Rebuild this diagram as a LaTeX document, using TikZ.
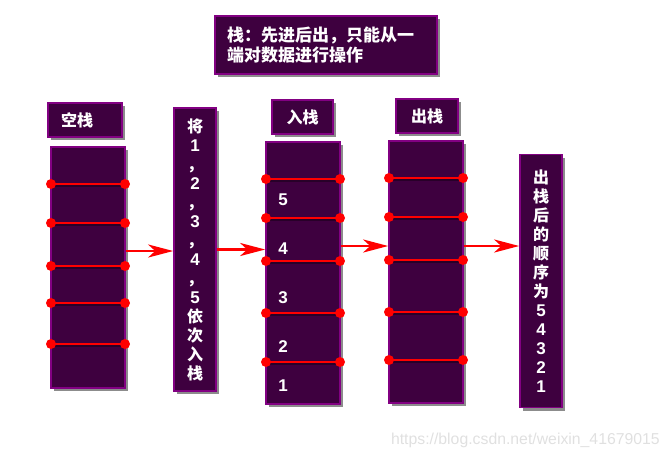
\documentclass[tikz,border=0pt]{standalone}
\usepackage{fontspec}
\setmainfont{Liberation Sans}
\newfontfamily\cjk{Noto Sans CJK SC}
\usetikzlibrary{arrows.meta,shadows}
\definecolor{boxfill}{HTML}{3E003F}
\definecolor{boxline}{HTML}{820082}
\definecolor{lred}{HTML}{FF0000}
\newcommand{\dg}[1]{{\normalfont\bfseries\fontsize{17}{19}\selectfont #1}}
\begin{document}
\begin{tikzpicture}[x=1pt,y=-1pt,
  box/.style={draw=boxline,line width=1.6pt,fill=boxfill,
    drop shadow={shadow xshift=3pt,shadow yshift=-3pt,opacity=0.45,fill=black},
    inner sep=0pt,text=white,font=\cjk\bfseries\fontsize{16}{19}\selectfont},
  vtext/.style={align=center},
  arr/.style={draw=lred,line width=2.6pt,-{Stealth[length=25pt,width=13pt,inset=7pt]}},
  rline/.style={draw=lred,line width=2.6pt},
  rshadow/.style={draw=black,opacity=0.35,line width=2.6pt},
  rdot/.style={fill=lred},
  num/.style={text=white,font=\bfseries\fontsize{17}{19}\selectfont}
]
\useasboundingbox (0,0) rectangle (671,459);

% title
\node[box,minimum width=222pt,minimum height=58pt,text width=198pt,align=left,
  font=\cjk\bfseries\fontsize{17}{20}\selectfont] (title) at (326,45)
  {栈：先进后出，只能从一\\端对数据进行操作};

% labels
\node[box,minimum width=74pt,minimum height=34pt] (lkong) at (85,120) {};
\node[text=white,font=\cjk\bfseries\fontsize{16}{19}\selectfont,anchor=west,inner sep=0pt] (tkong) at (61,120) {空栈};
\node[box,minimum width=61pt,minimum height=34pt] (lru) at (302.5,117) {入栈};
\node[box,minimum width=62pt,minimum height=34pt] (lchu) at (427,116) {出栈};

% stacks
\node[box,minimum width=74pt,minimum height=241pt] (kong) at (88,267.5) {};
\node[box,minimum width=74pt,minimum height=262pt] (ru) at (303,273) {};
\node[box,minimum width=74pt,minimum height=262pt] (chu) at (426,272) {};

% vertical text boxes
\node[box,minimum width=42pt,minimum height=283pt,vtext] (jiang) at (195,249.5)
  {将\\\dg{1}\\，\\\dg{2}\\，\\\dg{3}\\，\\\dg{4}\\，\\\dg{5}\\依\\次\\入\\栈};
\node[box,minimum width=42pt,minimum height=253pt,vtext] (final) at (541,281)
  {出\\栈\\后\\的\\顺\\序\\为\\\dg{5}\\\dg{4}\\\dg{3}\\\dg{2}\\\dg{1}};

% red lines in stacks
\foreach \y in {184,223,266,303,344}{
  \draw[rshadow] (53,\y+2) -- (127,\y+2);
  \draw[rline] (51,\y) -- (125,\y);
  \fill[rdot] (51,\y) circle (5pt) (125,\y) circle (5pt);
}
\foreach \y in {179,218,261,313,362}{
  \draw[rshadow] (268,\y+2) -- (342,\y+2);
  \draw[rline] (266,\y) -- (340,\y);
  \fill[rdot] (266,\y) circle (5pt) (340,\y) circle (5pt);
}
\foreach \y in {178,217,260,312,360}{
  \draw[rshadow] (391,\y+2) -- (465,\y+2);
  \draw[rline] (389,\y) -- (463,\y);
  \fill[rdot] (389,\y) circle (5pt) (463,\y) circle (5pt);
}

% numbers in the push stack
\node[num] (n5) at (283,200) {5};
\node[num] (n4) at (283,249) {4};
\node[num] (n3) at (283,298) {3};
\node[num] (n2) at (283,347) {2};
\node[num] (n1) at (283,386) {1};

% arrows
\coordinate (a1) at (0,251);
\coordinate (a3) at (0,246);
\draw[arr] (kong.east |- a1) -- (jiang.west |- a1);
\draw[arr] (jiang.east |- jiang.west) -- (ru.west |- jiang.west);
\draw[arr] (ru.east |- a3) -- (chu.west |- a3);
\draw[arr] (chu.east |- a3) -- (final.west |- a3);

% watermark
\node[text=black!12,font=\fontsize{15.8}{18}\selectfont,anchor=east,inner sep=0pt] (wm) at (660,440)
  {https://blog.csdn.net/weixin\_41679015};
\end{tikzpicture}
\end{document}
